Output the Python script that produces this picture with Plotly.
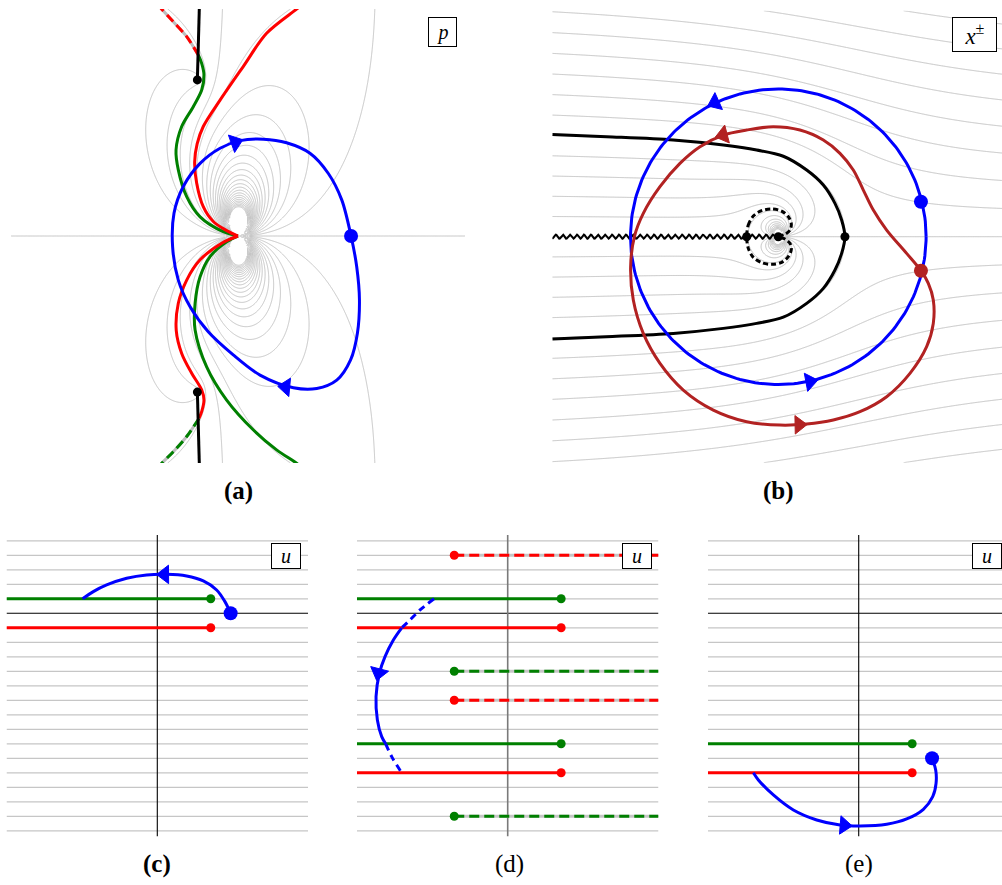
import numpy as np
import plotly.graph_objects as go

FIG_W, FIG_H = 1002, 885

# ---------------- model parameters ----------------
K_WZW = 5.0
H_COUPLING = 2.0
KAPPA = K_WZW / H_COUPLING
STEP = 1.0 / H_COUPLING            # spacing between Im(u) level lines

# ---------------- panel (a): p-plane ----------------
P_RE_RANGE = [-1.0, 1.0]
P_IM_RANGE = [-0.2 * np.pi, 0.2 * np.pi]
A_LEVELS = 22

blue_a_re = [0.498, 0.523, 0.535, 0.526, 0.496, 0.435, 0.347, 0.244, 0.097, -0.021, -0.131, -0.211,
             -0.263, -0.288, -0.282, -0.241, -0.167, -0.079, 0.009, 0.112, 0.214, 0.317, 0.398, 0.457, 0.498]
blue_a_im = [0.0, -0.085, -0.177, -0.269, -0.343, -0.399, -0.422, -0.420, -0.385, -0.329, -0.265, -0.196,
             -0.122, -0.030, 0.063, 0.137, 0.201, 0.243, 0.264, 0.268, 0.258, 0.229, 0.173, 0.100, 0.0]
blue_a_dot = (0.498, 0.0)

red_a_up_re = [0.0, -0.050, -0.109, -0.153, -0.182, -0.191, -0.180, -0.153, -0.079, 0.023, 0.126, 0.258, 0.300]
red_a_up_im = [0.0, 0.015, 0.040, 0.081, 0.146, 0.205, 0.255, 0.303, 0.376, 0.469, 0.561, 0.628, 0.650]
red_a_lo_re = [0.0, -0.072, -0.167, -0.226, -0.263, -0.272, -0.248, -0.204, -0.160, -0.150, -0.160, -0.172]
red_a_lo_im = [0.0, -0.020, -0.066, -0.122, -0.186, -0.262, -0.325, -0.380, -0.426, -0.454, -0.486, -0.505]
green_a_up_re = [0.0, -0.065, -0.167, -0.226, -0.263, -0.273, -0.248, -0.197, -0.160, -0.150, -0.160, -0.175]
green_a_up_im = [0.0, 0.012, 0.053, 0.109, 0.183, 0.238, 0.303, 0.358, 0.404, 0.446, 0.478, 0.501]
green_a_lo_re = [0.0, -0.050, -0.123, -0.167, -0.189, -0.189, -0.138, -0.050, 0.068, 0.170, 0.258, 0.300]
green_a_lo_im = [0.0, -0.016, -0.057, -0.113, -0.186, -0.260, -0.362, -0.454, -0.537, -0.592, -0.629, -0.650]
# continuations on the second sheet (beyond the cuts)
red_a_sheet_re = [-0.175, -0.226, -0.285, -0.336, -0.360]
red_a_sheet_im = [0.501, 0.552, 0.593, 0.628, 0.645]
green_a_sheet_re = [-0.172, -0.226, -0.285, -0.336, -0.360]
green_a_sheet_im = [-0.505, -0.555, -0.597, -0.629, -0.645]
# branch points of E(p) and their cuts
branch_a_re = [-0.179, -0.179]
branch_a_im = [0.432, -0.432]
cut_a_top_re = [-0.179, -0.170]
cut_a_top_im = [0.432, 0.640]
cut_a_bot_re = [-0.179, -0.170]
cut_a_bot_im = [-0.432, -0.640]

# ---------------- panel (b): x-plane ----------------
X_RANGE = [-5.0, 4.949]
Y_RANGE = [-5.0, 5.0]
B_LEVELS = 14

blue_b_radius = 3.27
blue_b_dot = (3.156, 0.774)
red_b_dot = (3.156, -0.752)
red_b_re = [3.156, 2.839, 2.397, 2.102, 1.881, 1.659, 1.364, 0.996, 0.479, -0.111, -0.701, -1.217, -1.733,
            -2.176, -2.618, -2.987, -3.186, -3.267, -3.208, -2.987, -2.618, -2.102, -1.438, -0.701, 0.037,
            0.627, 1.217, 1.807, 2.397, 2.913, 3.282, 3.429, 3.429, 3.319, 3.156]
red_b_im = [-0.752, -0.369, 0.147, 0.590, 1.032, 1.475, 1.844, 2.139, 2.360, 2.434, 2.360, 2.249, 1.991,
            1.622, 1.106, 0.516, -0.007, -0.664, -1.401, -2.139, -2.802, -3.392, -3.835, -4.093, -4.167,
            -4.145, -4.056, -3.872, -3.540, -3.024, -2.434, -1.917, -1.401, -1.032, -0.752]
u_zero_re = [-5.0, -3.80, -2.323, -1.217, -0.479, 0.111, 0.627, 0.996, 1.254, 1.401, 1.474,
             1.401, 1.254, 0.996, 0.627, 0.111, -0.479, -1.217, -2.323, -3.80, -5.0]
u_zero_im = [2.262, 2.212, 2.139, 2.028, 1.917, 1.780, 1.475, 1.143, 0.737, 0.369, 0.0,
             -0.369, -0.737, -1.143, -1.475, -1.780, -1.917, -2.028, -2.139, -2.212, -2.262]
inner_loop_re = [-0.70, -0.664, -0.553, -0.369, -0.147, 0.074, 0.221, 0.288, 0.258, 0.147, 0.0,
                 0.147, 0.258, 0.288, 0.221, 0.074, -0.147, -0.369, -0.553, -0.664, -0.70]
inner_loop_im = [0.0, 0.258, 0.457, 0.575, 0.612, 0.568, 0.442, 0.280, 0.147, 0.052, 0.0,
                 -0.052, -0.147, -0.280, -0.442, -0.568, -0.612, -0.575, -0.457, -0.258, 0.0]
log_cut_re = [-5.0, 0.0]
crit_b_re = [-0.70, 0.0, 1.474]
crit_b_im = [0.0, 0.0, 0.0]

# ---------------- panels (c)-(e): u-plane ----------------
U_RE_RANGE = [-5.2, 5.2]
U_IM_RANGE = [-7.7, 2.7]
u_grid_im = [v for v in np.arange(-7.5, 2.51, STEP) if abs(v) > 1e-9]
u_branch = 1.843

c_green_cuts = [0.5]
c_red_cuts = [-0.5]
c_blue_re = [2.529, 2.333, 2.046, 1.586, 1.011, 0.322, -0.368, -1.057, -1.747, -2.207, -2.575]
c_blue_im = [0.0, 0.402, 0.805, 1.115, 1.287, 1.345, 1.322, 1.207, 0.977, 0.747, 0.5]
c_blue_dot = (2.529, 0.0)

d_green_cuts = [0.5, -4.5]
d_red_cuts = [-0.5, -5.5]
d_green_sheet = [-2.0, -7.0]
d_red_sheet = [2.0, -3.0]
d_blue_re = [-2.540, -3.023, -3.368, -3.655, -3.943, -4.230, -4.425, -4.540, -4.494, -4.345, -4.207, -4.000, -3.655]
d_blue_im = [0.5, 0.115, -0.230, -0.5, -0.920, -1.494, -2.069, -2.874, -3.678, -4.253, -4.5, -4.943, -5.5]

e_green_cuts = [-4.5]
e_red_cuts = [-5.5]
e_blue_re = [-3.632, -3.460, -2.943, -2.253, -1.448, -0.644, 0.046, 0.966, 1.655, 2.230, 2.552, 2.667, 2.655, 2.529]
e_blue_im = [-5.5, -5.747, -6.264, -6.782, -7.126, -7.299, -7.333, -7.276, -7.092, -6.759, -6.322, -5.862, -5.402, -5.0]
e_blue_dot = (2.529, -5.0)

# ---------------- colours ----------------
GRAY = "#bdbdbd"
GRID_GRAY = "#c6c6c6"
RED = "#ff0000"
GREEN = "#008000"
BLUE = "#0000ff"
BRICK = "#b22222"
BLACK = "#000000"


def u_of_x(x):
    return x + 1.0 / x - (KAPPA / np.pi) * np.log(x)


def level_field(imu, n_levels):
    # zero set of this field = the lines Im(u) = n*STEP, |n| <= n_levels
    lim = (n_levels + 0.5) * STEP
    return np.sin(np.pi * np.clip(imu, -lim, lim) / STEP).astype(np.float32)


# Im(u) on the p-plane
pa_re = np.linspace(P_RE_RANGE[0], P_RE_RANGE[1], 720)
pa_im = np.linspace(P_IM_RANGE[0], P_IM_RANGE[1], 720)
PR, PI = np.meshgrid(pa_re, pa_im)
P = PR + 1j * PI
A = 1.0 + K_WZW * P / (2 * np.pi)
E = np.sqrt(A ** 2 + 4 * H_COUPLING ** 2 * np.sin(P / 2) ** 2)
mid = len(pa_im) // 2
for r0 in (mid, mid - 1):
    E[r0] = np.where(E[r0].real < 0, -E[r0], E[r0])
for i in range(mid + 1, len(pa_im)):
    flip = np.abs(E[i] - E[i - 1]) > np.abs(E[i] + E[i - 1])
    E[i] = np.where(flip, -E[i], E[i])
for i in range(mid - 2, -1, -1):
    flip = np.abs(E[i] - E[i + 1]) > np.abs(E[i] + E[i + 1])
    E[i] = np.where(flip, -E[i], E[i])
xp = (A + E) / (2 * H_COUPLING * np.sin(P / 2)) * np.exp(0.5j * P)
xm = xp * np.exp(-1j * P)
imu_a = 0.5 * (u_of_x(xp) + u_of_x(xm)).imag
field_a = level_field(imu_a, A_LEVELS)

# Im(u) on the x-plane
xb = np.linspace(-5.0, 5.0, 640)
yb = np.linspace(-5.0, 5.0, 640)
XB, YB = np.meshgrid(xb, yb)
imu_b = u_of_x(XB + 1j * YB).imag
field_b = level_field(imu_b, B_LEVELS)

fig = go.Figure()


def axes(i):
    return ("x", "y") if i == 1 else (f"x{i}", f"y{i}")


def add_line(i, xs, ys, color, width, dash="solid", smooth=True):
    xa, ya = axes(i)
    fig.add_trace(go.Scatter(
        x=list(xs), y=list(ys), mode="lines", xaxis=xa, yaxis=ya,
        line=dict(color=color, width=width, dash=dash,
                  shape="spline" if smooth else "linear", smoothing=0.9),
        hoverinfo="skip", showlegend=False))


def add_dots(i, xs, ys, color, size):
    xa, ya = axes(i)
    fig.add_trace(go.Scatter(
        x=list(xs), y=list(ys), mode="markers", xaxis=xa, yaxis=ya,
        marker=dict(color=color, size=size, opacity=1, line=dict(width=0)),
        hoverinfo="skip", showlegend=False))


def add_arrow(i, tail, tip, color):
    # arrowhead at `tip`, oriented along the direction tail -> tip
    xa, ya = axes(i)
    fig.add_trace(go.Scatter(
        x=[tail[0], tip[0]], y=[tail[1], tip[1]], mode="markers", xaxis=xa, yaxis=ya,
        marker=dict(symbol="triangle-up", size=[0, 16], color=color, opacity=1,
                    angleref="previous", line=dict(width=1, color=color)),
        hoverinfo="skip", showlegend=False))


# ---- (a) ----
fig.add_trace(go.Contour(
    x=pa_re, y=pa_im, z=field_a, xaxis="x", yaxis="y", showscale=False, hoverinfo="skip",
    autocontour=False, contours=dict(start=0, end=0.5, size=1, coloring="none"),
    line=dict(color=GRAY, width=0.9, smoothing=0.6)))
add_line(1, red_a_sheet_re, red_a_sheet_im, GRAY, 3)
add_line(1, red_a_sheet_re, red_a_sheet_im, RED, 3, dash="9px,5px")
add_line(1, green_a_sheet_re, green_a_sheet_im, GRAY, 3)
add_line(1, green_a_sheet_re, green_a_sheet_im, GREEN, 3, dash="9px,5px")
add_line(1, green_a_up_re, green_a_up_im, GREEN, 3)
add_line(1, green_a_lo_re, green_a_lo_im, GREEN, 3)
add_line(1, red_a_up_re, red_a_up_im, RED, 3)
add_line(1, red_a_lo_re, red_a_lo_im, RED, 3)
add_line(1, cut_a_top_re, cut_a_top_im, BLACK, 3, smooth=False)
add_line(1, cut_a_bot_re, cut_a_bot_im, BLACK, 3, smooth=False)
add_dots(1, branch_a_re, branch_a_im, BLACK, 9)
add_line(1, blue_a_re, blue_a_im, BLUE, 3)
add_dots(1, [blue_a_dot[0]], [blue_a_dot[1]], BLUE, 14)
add_arrow(1, (-0.070, 0.246), (-0.012, 0.259), BLUE)
add_arrow(1, (0.280, -0.422), (0.210, -0.418), BLUE)

# ---- (b) ----
fig.add_trace(go.Contour(
    x=xb, y=yb, z=field_b, xaxis="x2", yaxis="y2", showscale=False, hoverinfo="skip",
    autocontour=False, contours=dict(start=0, end=0.5, size=1, coloring="none"),
    line=dict(color=GRAY, width=0.9, smoothing=0.6)))
# zigzag marking the logarithmic cut
zz_x = np.linspace(log_cut_re[0], log_cut_re[1], 330)
zz_y = 0.045 * np.sin(2 * np.pi * zz_x / 0.155)
add_line(2, zz_x, zz_y, BLACK, 2.0, smooth=False)
add_line(2, u_zero_re, u_zero_im, BLACK, 3)
add_line(2, inner_loop_re, inner_loop_im, BLACK, 3, dash="5px,3px")
add_dots(2, crit_b_re, crit_b_im, BLACK, 9)
circle_t = np.linspace(0, 2 * np.pi, 241)
add_line(2, blue_b_radius * np.cos(circle_t), blue_b_radius * np.sin(circle_t), BLUE, 3, smooth=False)
add_line(2, red_b_re, red_b_im, BRICK, 3)
add_dots(2, [blue_b_dot[0]], [blue_b_dot[1]], BLUE, 14)
add_dots(2, [red_b_dot[0]], [red_b_dot[1]], BRICK, 14)
add_arrow(2, (-1.229, 3.041), (-1.40, 2.965), BLUE)
add_arrow(2, (0.513, -3.240), (0.70, -3.205), BLUE)
add_arrow(2, (-0.95, 2.32), (-1.22, 2.25), BRICK)
add_arrow(2, (0.20, -4.165), (0.46, -4.160), BRICK)


# ---- (c), (d), (e) ----
def u_background(i, vaxis_color=BLACK, vaxis_width=1.1):
    gx, gy = [], []
    for v in u_grid_im:
        gx += [U_RE_RANGE[0], U_RE_RANGE[1], None]
        gy += [v, v, None]
    add_line(i, gx, gy, GRID_GRAY, 1.2, smooth=False)
    add_line(i, U_RE_RANGE, [0, 0], BLACK, 1.1, smooth=False)
    add_line(i, [0, 0], U_IM_RANGE, vaxis_color, vaxis_width, smooth=False)


def u_cuts(i, levels, color):
    for v in levels:
        add_line(i, [U_RE_RANGE[0], u_branch], [v, v], color, 3, smooth=False)
        add_dots(i, [u_branch], [v], color, 9)


def u_sheet_cuts(i, levels, color):
    for v in levels:
        add_line(i, [-u_branch, U_RE_RANGE[1]], [v, v], GRID_GRAY, 3, smooth=False)
        add_line(i, [-u_branch, U_RE_RANGE[1]], [v, v], color, 3, dash="10px,5px", smooth=False)
        add_dots(i, [-u_branch], [v], color, 9)


u_background(3)
u_cuts(3, c_green_cuts, GREEN)
u_cuts(3, c_red_cuts, RED)
add_line(3, c_blue_re, c_blue_im, BLUE, 3)
add_dots(3, [c_blue_dot[0]], [c_blue_dot[1]], BLUE, 14)
add_arrow(3, (0.50, 1.342), (0.25, 1.340), BLUE)

u_background(4, vaxis_color="#7a7a7a", vaxis_width=1.6)
u_cuts(4, d_green_cuts, GREEN)
u_cuts(4, d_red_cuts, RED)
u_sheet_cuts(4, d_green_sheet, GREEN)
u_sheet_cuts(4, d_red_sheet, RED)
add_line(4, d_blue_re[:4], d_blue_im[:4], BLUE, 3, dash="7px,5px")
add_line(4, d_blue_re[3:11], d_blue_im[3:11], BLUE, 3)
add_line(4, d_blue_re[10:], d_blue_im[10:], BLUE, 3, dash="7px,5px")
add_arrow(4, (-4.36, -1.70), (-4.45, -2.05), BLUE)

u_background(5)
u_cuts(5, e_green_cuts, GREEN)
u_cuts(5, e_red_cuts, RED)
add_line(5, e_blue_re, e_blue_im, BLUE, 3)
add_dots(5, [e_blue_dot[0]], [e_blue_dot[1]], BLUE, 14)
add_arrow(5, (-0.75, -7.29), (-0.50, -7.31), BLUE)

# ---------------- layout ----------------
panels = {
    1: ((11.0, 9.0, 465.0, 463.0), P_RE_RANGE, P_IM_RANGE),
    2: ((552.3, 10.7, 1002.0, 462.7), X_RANGE, Y_RANGE),
    3: ((6.5, 535.0, 308.1, 836.6), U_RE_RANGE, U_IM_RANGE),
    4: ((356.9, 535.0, 658.5, 836.6), U_RE_RANGE, U_IM_RANGE),
    5: ((707.9, 535.0, 1002.0, 836.6), [-5.2, 4.941], U_IM_RANGE),
}
layout_axes = {}
for i, (box, xr, yr) in panels.items():
    l, t, r, b = box
    xa, ya = axes(i)
    xkey = "xaxis" if i == 1 else f"xaxis{i}"
    ykey = "yaxis" if i == 1 else f"yaxis{i}"
    layout_axes[xkey] = dict(domain=[l / FIG_W, r / FIG_W], range=xr, visible=False,
                             fixedrange=True, anchor=ya)
    layout_axes[ykey] = dict(domain=[1 - b / FIG_H, 1 - t / FIG_H], range=yr, visible=False,
                             fixedrange=True, anchor=xa)

SERIF = "Liberation Serif, DejaVu Serif, serif"


def paper_text(x, y, text, size, **kw):
    return dict(x=x / FIG_W, y=1 - y / FIG_H, xref="paper", yref="paper", text=text,
                showarrow=False, font=dict(family=SERIF, size=size, color=BLACK),
                xanchor="center", yanchor="middle", **kw)


def tag(x, y, text, w, h, size=20):
    return paper_text(x, y, text, size, bordercolor=BLACK, borderwidth=1, borderpad=1,
                      bgcolor="white", width=w, height=h)


labels = [
    paper_text(238, 491, "<b>(a)</b>", 25),
    paper_text(778, 491, "<b>(b)</b>", 25),
    paper_text(157, 864, "<b>(c)</b>", 25),
    paper_text(509, 864, "(d)", 25),
    paper_text(859, 864, "(e)", 25),
    tag(442.5, 32, "<i>p</i>", 25, 26),
    tag(974.5, 34, "<i>x</i><sup>±</sup>", 41, 31, size=23),
    tag(286, 555.5, "<i>u</i>", 26, 22),
    tag(636.7, 555.5, "<i>u</i>", 26, 22),
    tag(987, 555.5, "<i>u</i>", 26, 22),
]

fig.update_layout(
    width=FIG_W, height=FIG_H, autosize=False,
    margin=dict(l=0, r=0, t=0, b=0, pad=0),
    paper_bgcolor="white", plot_bgcolor="white",
    showlegend=False,
    annotations=labels,
    **layout_axes,
)

fig.write_html("out.html")
